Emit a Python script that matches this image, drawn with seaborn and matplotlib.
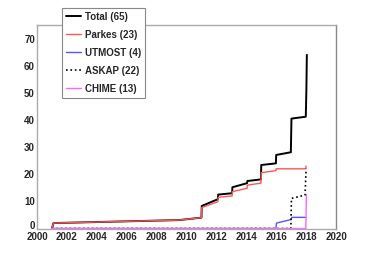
import numpy as np
import pandas as pd
import matplotlib
matplotlib.use("Agg")
import matplotlib.pyplot as plt
import matplotlib.transforms as mtransforms
from matplotlib.ticker import MultipleLocator
import seaborn as sns

# cumulative counts (year, count)
total_x = [2001.0, 2001.1, 2009.5, 2011.0, 2011.02, 2012.1, 2012.12, 2013.05, 2013.07,
           2014.05, 2014.07, 2014.98, 2015.0, 2015.98, 2016.0, 2016.98, 2017.02,
           2017.98, 2018.02, 2018.05]
total_y = [0, 2, 3.1, 4.0, 8.3, 10.8, 12.5, 13.0, 15.2, 16.7, 17.5, 18.1, 23.4, 24.0,
           27.1, 28.1, 40.5, 41.2, 51.5, 64]

parkes_x = [2001.0, 2001.1, 2009.5, 2011.0, 2011.02, 2012.1, 2012.12, 2013.05, 2013.07,
            2014.05, 2014.07, 2014.98, 2015.0, 2015.98, 2016.0, 2017.98, 2018.0]
parkes_y = [0, 2, 3.1, 4.0, 7.7, 9.9, 11.5, 12.0, 13.6, 14.8, 16.0, 16.7, 20.6, 21.3,
            22.0, 22.0, 23]

utmost_x = [2001.0, 2015.98, 2016.02, 2017.0, 2017.04, 2018.0]
utmost_y = [0, 0, 2.0, 3.3, 4.1, 4.1]

askap_x = [2001.0, 2016.98, 2017.02, 2017.93, 2018.0]
askap_y = [0, 0, 11.1, 12.3, 22]

chime_x = [2001.0, 2017.98, 2018.02]
chime_y = [0, 0, 12.5]

labels = ["Total (65)", "Parkes (23)", "UTMOST (4)", "ASKAP (22)", "CHIME (13)"]

sns.set_style("white")
plt.rcParams["font.family"] = ["Liberation Sans", "DejaVu Sans"]
plt.rcParams["font.weight"] = "bold"

fig = plt.figure(figsize=(3.74, 2.54), dpi=100)
ax = fig.add_axes([37 / 374, 1 - 228.5 / 254, 299 / 374, 203.5 / 254])

series = [
    (total_x, total_y, "black", "-", 1.4),
    (parkes_x, parkes_y, "#ff5555", "-", 1.0),
    (utmost_x, utmost_y, "#5555ff", "-", 1.0),
    (askap_x, askap_y, "black", ":", 1.2),
    (chime_x, chime_y, "#ff66ff", "-", 1.0),
]
handles = []
for (xs, ys, col, ls, lw), lab in zip(series, labels):
    df = pd.DataFrame({"year": xs, "n": ys})
    sns.lineplot(data=df, x="year", y="n", ax=ax, sort=False, estimator=None,
                 color=col, linestyle=ls, linewidth=lw, label=lab, legend=False)
    handles.append(ax.lines[-1])

ax.set_xlim(2000, 2020)
ax.set_ylim(0, 75)
ax.set_xlabel("")
ax.set_ylabel("")
ax.xaxis.set_major_locator(MultipleLocator(2))
ax.xaxis.set_minor_locator(MultipleLocator(0.5))
ax.yaxis.set_major_locator(MultipleLocator(10))
ax.yaxis.set_minor_locator(MultipleLocator(2))
ax.tick_params(which="both", direction="in", color="#999999", labelsize=7)
ax.tick_params(which="major", length=5.5, width=1.0)
ax.tick_params(which="minor", length=2.5, width=0.8)
ax.tick_params(axis="x", pad=2.6)
ax.tick_params(axis="y", pad=1.5)
for lab in ax.get_xticklabels() + ax.get_yticklabels():
    lab.set_fontweight("bold")
for side in ["left", "bottom", "top", "right"]:
    ax.spines[side].set_color("#aaaaaa")
    ax.spines[side].set_linewidth(1.0)
ax.spines["right"].set_color("#888888")

# lift the "0" label a little so it clears "2000"
fig.canvas.draw()
lift = mtransforms.ScaledTranslation(0, 3.5 / 100, fig.dpi_scale_trans)
for tick in ax.yaxis.get_major_ticks():
    if tick.label1.get_text() == "0":
        tick.label1.set_transform(tick.label1.get_transform() + lift)

leg = fig.legend(handles, labels, loc="upper left",
                 bbox_to_anchor=(62 / 374, 1 - 8 / 254),
                 frameon=True, fancybox=False, framealpha=1,
                 edgecolor="#888888", prop={"weight": "bold", "size": 7},
                 handlelength=1.55, handletextpad=0.45, labelspacing=0.82,
                 borderpad=0.4, borderaxespad=0)
leg.get_frame().set_linewidth(0.8)

fig.savefig("out.png", dpi=100)
